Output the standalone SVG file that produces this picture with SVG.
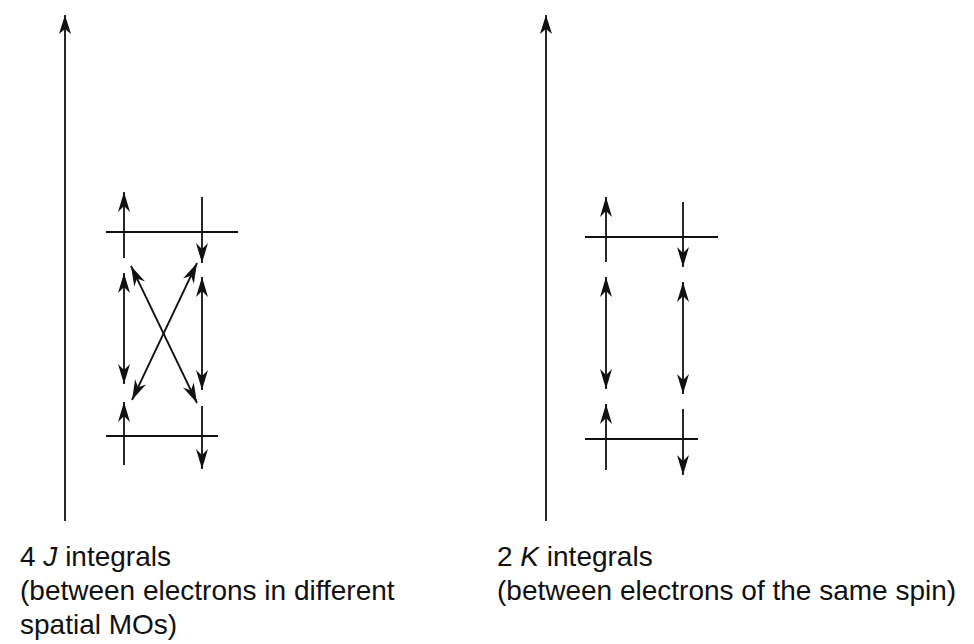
<svg xmlns="http://www.w3.org/2000/svg" width="974" height="644" viewBox="0 0 974 644">
<defs>
<marker id="ah" markerUnits="userSpaceOnUse" markerWidth="22" markerHeight="14" viewBox="-21 -7 22 14" refX="0" refY="0" orient="auto-start-reverse">
<path d="M0,0 L-20,-6 L-14,0 L-20,6 Z" fill="#111"/>
</marker>
<marker id="axh" markerUnits="userSpaceOnUse" markerWidth="22" markerHeight="14" viewBox="-21 -7 22 14" refX="0" refY="0" orient="auto">
<path d="M0,0 L-19,-6 L-14,0 L-19,6 Z" fill="#111"/>
</marker>
<style>
.ln{stroke:#111;stroke-width:1.8;fill:none}
.s{marker-end:url(#ah)}
.d{marker-start:url(#ah);marker-end:url(#ah)}
.ax{stroke:#111;stroke-width:1.8;fill:none;marker-end:url(#axh)}
text{font-family:"Liberation Sans",Arial,sans-serif;font-size:28px;fill:#111}
</style>
</defs>
<g id="axes">
<line class="ax" x1="65" y1="521" x2="65" y2="15"/>
<line class="ax" x1="546" y1="521" x2="546" y2="15"/>
</g>
<g id="levels">
<line class="ln" x1="106" y1="232" x2="238" y2="232"/>
<line class="ln" x1="106" y1="436" x2="218" y2="436"/>
<line class="ln" x1="585" y1="237" x2="718" y2="237"/>
<line class="ln" x1="585" y1="439" x2="698" y2="439"/>
</g>
<g id="connectors">
<line class="ln s" x1="124" y1="258" x2="124" y2="192"/>
<line class="ln s" x1="202" y1="197" x2="202" y2="263"/>
<line class="ln d" x1="124" y1="273" x2="124" y2="384"/>
<line class="ln d" x1="202" y1="277" x2="202" y2="390"/>
<line class="ln d" x1="131" y1="266" x2="197" y2="403"/>
<line class="ln d" x1="197" y1="263" x2="132" y2="400"/>
<line class="ln s" x1="124" y1="465" x2="124" y2="402"/>
<line class="ln s" x1="202" y1="406" x2="202" y2="469"/>
<line class="ln s" x1="606" y1="262" x2="606" y2="197"/>
<line class="ln s" x1="683" y1="202" x2="683" y2="267"/>
<line class="ln d" x1="606" y1="277" x2="606" y2="389"/>
<line class="ln d" x1="683" y1="282" x2="683" y2="394"/>
<line class="ln s" x1="606" y1="470" x2="606" y2="404"/>
<line class="ln s" x1="683" y1="409" x2="683" y2="475"/>
</g>
<g id="label-left">
<text x="20" y="566">4 <tspan font-style="italic">J</tspan> integrals</text>
<text x="20" y="600">(between electrons in different</text>
<text x="20" y="634">spatial MOs)</text>
</g>
<g id="label-right">
<text x="497" y="566">2 <tspan font-style="italic">K</tspan> integrals</text>
<text x="497" y="600">(between electrons of the same spin)</text>
</g>
</svg>
